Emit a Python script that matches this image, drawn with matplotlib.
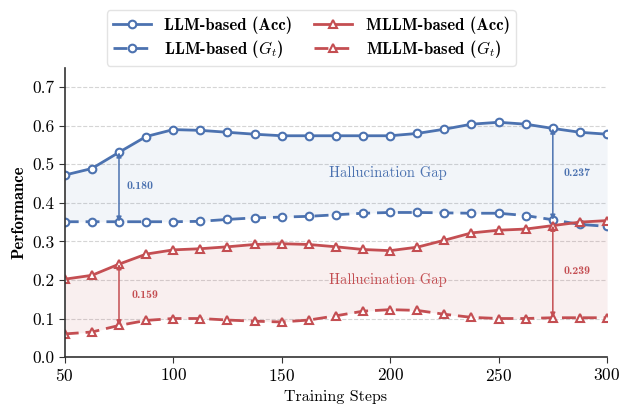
import matplotlib
matplotlib.use("Agg")
import matplotlib.pyplot as plt

plt.rcParams['font.family'] = 'cmr10'
plt.rcParams['mathtext.fontset'] = 'cm'
plt.rcParams['axes.formatter.use_mathtext'] = True

# training steps
steps = [50, 62.5, 75, 87.5, 100, 112.5, 125, 137.5, 150, 162.5, 175,
         187.5, 200, 212.5, 225, 237.5, 250, 262.5, 275, 287.5, 300]

llm_acc = [0.472, 0.489, 0.531, 0.572, 0.590, 0.588, 0.583, 0.578, 0.574, 0.574, 0.574,
           0.574, 0.574, 0.580, 0.591, 0.604, 0.609, 0.604, 0.593, 0.583, 0.578]
llm_gt = [0.351, 0.351, 0.351, 0.351, 0.351, 0.352, 0.357, 0.361, 0.363, 0.365, 0.369,
          0.373, 0.375, 0.375, 0.374, 0.373, 0.373, 0.367, 0.356, 0.344, 0.339]
mllm_acc = [0.202, 0.212, 0.241, 0.267, 0.278, 0.281, 0.286, 0.292, 0.294, 0.292, 0.286,
            0.279, 0.276, 0.285, 0.303, 0.322, 0.329, 0.332, 0.341, 0.350, 0.354]
mllm_gt = [0.060, 0.065, 0.082, 0.095, 0.100, 0.100, 0.096, 0.093, 0.091, 0.096, 0.107,
           0.119, 0.123, 0.121, 0.111, 0.103, 0.100, 0.100, 0.102, 0.102, 0.102]

blue = '#4C72B0'
red = '#C44E52'

fig = plt.figure(figsize=(6.35, 4.09), dpi=100)
ax = fig.add_axes([0.102, 0.127, 0.854, 0.707])

ax.fill_between(steps, llm_gt, llm_acc, color=blue, alpha=0.07, lw=0)
ax.fill_between(steps, mllm_gt, mllm_acc, color=red, alpha=0.09, lw=0)

mk = dict(markersize=5.5, markerfacecolor='white', markeredgewidth=1.5, lw=2)
ax.plot(steps, llm_acc, '-o', color=blue, label='LLM-based (Acc)', **mk)
ax.plot(steps, llm_gt, '--o', color=blue, label='LLM-based ($G_t$)', dashes=(5, 2.5), **mk)
ax.plot(steps, mllm_acc, '-^', color=red, label='MLLM-based (Acc)', **mk)
ax.plot(steps, mllm_gt, '--^', color=red, label='MLLM-based ($G_t$)', dashes=(5, 2.5), **mk)

# gap arrows
def gap(x, lo, hi, c, txt, tx, ty):
    ax.annotate('', xy=(x, hi), xytext=(x, lo),
                arrowprops=dict(arrowstyle='<|-|>', color=c, lw=1.1,
                                mutation_scale=7, shrinkA=0, shrinkB=0))
    ax.text(tx, ty, txt, color=c, fontsize=8.5, fontfamily='cmb10',
            ha='center', va='center')

i1 = steps.index(75)
i2 = steps.index(275)
gap(75, llm_gt[i1], llm_acc[i1], blue, '0.180', 84.5, 0.443)
gap(275, llm_gt[i2], llm_acc[i2], blue, '0.237', 286.2, 0.477)
gap(75, mllm_gt[i1], mllm_acc[i1], red, '0.159', 86.9, 0.162)
gap(275, mllm_gt[i2], mllm_acc[i2], red, '0.239', 286.2, 0.222)

ax.text(199, 0.477, 'Hallucination Gap', color=blue, fontsize=10.5,
        ha='center', va='center')
ax.text(199, 0.20, 'Hallucination Gap', color=red, fontsize=10.5,
        ha='center', va='center')

ax.set_xlim(50, 300)
ax.set_ylim(0, 0.75)
ax.set_yticks([0.0, 0.1, 0.2, 0.3, 0.4, 0.5, 0.6, 0.7])
ax.set_yticklabels(['0.0', '0.1', '0.2', '0.3', '0.4', '0.5', '0.6', '0.7'])
ax.set_xticks([50, 100, 150, 200, 250, 300])
ax.tick_params(labelsize=12.5, direction='out', length=4, color='#333333')
ax.grid(axis='y', ls='--', color='#d5d5d5', lw=0.8)
ax.set_axisbelow(True)
for s in ['top', 'right']:
    ax.spines[s].set_visible(False)
for s in ['left', 'bottom']:
    ax.spines[s].set_color('#333333')
    ax.spines[s].set_linewidth(1.2)

ax.set_xlabel('Training Steps', fontsize=11.5)
ax.set_ylabel('Performance', fontsize=12, fontfamily='cmb10')

h, l = ax.get_legend_handles_labels()
fig.legend(h, l, ncol=2,
           loc='upper center', bbox_to_anchor=(0.49, 0.995),
           prop={'family': 'cmb10', 'size': 12}, frameon=True,
           edgecolor='#dddddd', handlelength=2.3, columnspacing=1.3,
           labelspacing=0.25, borderpad=0.35)

fig.savefig('out.png', dpi=100)
